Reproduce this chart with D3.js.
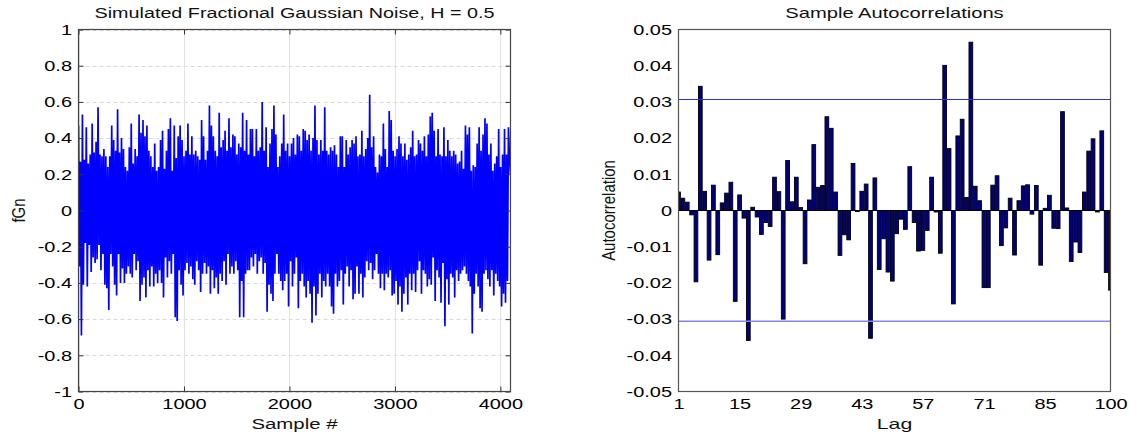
<!DOCTYPE html>
<html>
<head>
<meta charset="utf-8">
<script src="https://cdn.jsdelivr.net/npm/d3@7"></script>
<style>
    body { margin: 0; background: #fff; }
    text { font-family: "Liberation Sans", Arial, sans-serif; }
</style>
</head>
<body>
<svg id="chart" width="1138" height="437"></svg>
<script>

// ---- Data ----

// fGn trace: upper and lower peaks, column by column, left to right
var fgnHigh = [
    0.47,0.27,0.53,0.28,0.46,0.26,0.31,0.48,0.32,0.38,0.57,0.31,0.30,0.34,0.30,0.24,0.30,0.47,0.39,0.33,0.56,0.32,0.40,0.34,0.24,0.22,0.35,0.48,0.26,0.34,0.30,0.53,0.43,0.50,0.41,0.47,0.33,0.30,0.24,0.37,0.22,
    0.24,0.39,0.44,0.23,0.33,0.45,0.51,0.22,0.47,0.29,0.41,0.47,0.39,0.30,0.33,0.48,0.31,0.41,0.31,0.33,0.30,0.28,0.50,0.41,0.28,0.33,0.58,0.47,0.41,0.33,0.30,0.54,0.35,0.39,0.44,0.33,0.51,0.35,0.42,0.41,0.31,0.37,0.35,0.54,0.33,0.50,0.31,0.45,
    0.45,0.30,0.45,0.33,0.35,0.60,0.33,0.46,0.24,0.37,0.45,0.58,0.42,0.24,0.30,0.37,0.53,0.33,0.37,0.30,0.37,0.40,0.31,0.42,0.41,0.33,0.45,0.44,0.39,0.42,0.33,0.40,0.58,0.39,0.31,0.39,0.33,0.57,0.33,0.31,0.35,0.33,0.36,0.31,0.24,0.41,
    0.41,0.24,0.39,0.31,0.35,0.39,0.37,0.41,0.30,0.31,0.44,0.30,0.34,0.40,0.64,0.35,0.41,0.24,0.21,0.31,0.30,0.48,0.34,0.24,0.55,0.50,0.33,0.30,0.34,0.41,0.37,0.30,0.37,0.28,0.31,0.35,0.44,0.30,0.31,0.39,0.37,0.33,0.41,0.30,0.42,0.52,0.54,0.44,
    0.30,0.45,0.31,0.30,0.46,0.30,0.39,0.33,0.30,0.33,0.31,0.26,0.27,0.33,0.23,0.47,0.42,0.46,0.22,0.25,0.24,0.37,0.46,0.33,0.42,0.51,0.48,0.31,0.37,0.22,0.26,0.30,0.45,0.24,0.31,0.45,0.31,0.46,0.30,0.20
];
var fgnLow = [
    -0.31,-0.69,-0.41,-0.18,-0.42,-0.19,-0.34,-0.26,-0.29,-0.27,-0.19,-0.33,-0.24,-0.41,-0.43,-0.55,-0.24,-0.31,-0.41,-0.47,-0.24,-0.40,-0.32,-0.40,-0.35,-0.31,-0.35,-0.37,-0.24,-0.33,-0.28,-0.50,-0.41,-0.37,-0.48,-0.33,-0.42,-0.31,-0.42,-0.35,-0.40,-0.33,
    -0.40,-0.48,-0.26,-0.37,-0.28,-0.35,-0.24,-0.59,-0.61,-0.33,-0.41,-0.47,-0.33,-0.29,-0.35,-0.31,-0.38,-0.41,-0.28,-0.33,-0.45,-0.35,-0.29,-0.35,-0.31,-0.46,-0.33,-0.43,-0.37,-0.46,-0.35,-0.39,-0.28,-0.41,-0.24,-0.35,-0.31,-0.35,-0.28,-0.33,-0.59,-0.39,-0.59,-0.35,-0.33,
    -0.33,-0.26,-0.31,-0.24,-0.35,-0.28,-0.26,-0.35,-0.29,-0.56,-0.41,-0.46,-0.50,-0.35,-0.24,-0.35,-0.39,-0.44,-0.39,-0.35,-0.53,-0.28,-0.42,-0.35,-0.26,-0.54,-0.39,-0.35,-0.42,-0.48,-0.39,-0.46,-0.62,-0.42,-0.58,-0.46,-0.35,-0.48,-0.39,-0.42,-0.35,-0.42,-0.53,-0.57,-0.35,-0.42,
    -0.39,-0.33,-0.52,-0.35,-0.31,-0.42,-0.33,-0.49,-0.46,-0.31,-0.46,-0.35,-0.48,-0.37,-0.28,-0.33,-0.29,-0.38,-0.33,-0.24,-0.35,-0.43,-0.35,-0.44,-0.35,-0.37,-0.33,-0.47,-0.46,-0.39,-0.52,-0.42,-0.56,-0.46,-0.37,-0.52,-0.35,-0.44,-0.35,-0.45,-0.33,-0.28,-0.46,-0.33,-0.35,-0.42,
    -0.38,-0.41,-0.26,-0.50,-0.33,-0.37,-0.51,-0.29,-0.64,-0.38,-0.52,-0.35,-0.37,-0.48,-0.33,-0.39,-0.35,-0.33,-0.31,-0.35,-0.39,-0.42,-0.68,-0.46,-0.35,-0.42,-0.54,-0.56,-0.35,-0.33,-0.38,-0.42,-0.33,-0.47,-0.35,-0.39,-0.42,-0.53,-0.46,-0.51,-0.39
];
var sampleCount = 4096;
var sampleTicks = [0, 1000, 2000, 3000, 4000];
var fgnTicks = [-1, -0.8, -0.6, -0.4, -0.2, 0, 0.2, 0.4, 0.6, 0.8, 1];

// Sample autocorrelations, lags 1..100
var acfValues = [
    0.0051, 0.0034, 0.0023,-0.0012,-0.0197, 0.0343, 0.0053,-0.0137, 0.0070,-0.0122,
    0.0021, 0.0048, 0.0078,-0.0251, 0.0043,-0.0021,-0.0359, 0.0009,-0.0018,-0.0066,
   -0.0033,-0.0044, 0.0092, 0.0052,-0.0300, 0.0138, 0.0024, 0.0092, 0.0008,-0.0147,
    0.0029, 0.0182, 0.0064, 0.0069, 0.0259, 0.0227, 0.0051,-0.0124,-0.0067,-0.0081,
    0.0130,-0.0003, 0.0053, 0.0073,-0.0353, 0.0090,-0.0163,-0.0078,-0.0170,-0.0195,
   -0.0064,-0.0024,-0.0052, 0.0121,-0.0033,-0.0112,-0.0110,-0.0055, 0.0092,-0.0004,
   -0.0118, 0.0401, 0.0171,-0.0258, 0.0206, 0.0252, 0.0036, 0.0465, 0.0067, 0.0027,
   -0.0213,-0.0213, 0.0070, 0.0096,-0.0097,-0.0048, 0.0034,-0.0123, 0.0027, 0.0068,
    0.0071,-0.0010, 0.0069,-0.0151, 0.0006, 0.0042,-0.0049,-0.0050, 0.0273, 0.0007,
   -0.0141,-0.0087,-0.0116, 0.0051, 0.0164, 0.0198,-0.0004, 0.0220,-0.0171,-0.0220
];
var acfLags = d3.range(1, acfValues.length + 1);
var acfBound = 0.0306;   // 1.96 / sqrt(4096)
var lagTicks = [1, 15, 29, 43, 57, 71, 85, 100];
var acfTicks = [-0.05, -0.04, -0.03, -0.02, -0.01, 0, 0.01, 0.02, 0.03, 0.04, 0.05];

// ---- Layout ----
var plotTop = 29.5, plotBottom = 391.5;
var leftPlot = { x0: 78.5, x1: 510.5 };
var rightPlot = { x0: 678.5, x1: 1110.5 };
var SX = 1.33;        // the picture's text is drawn wider than it is tall

var svg = d3.select("#chart");

// Move x/y of a text into a transform and widen it
function stretch(sel, sx, rot) {
    sel.each(function () {
        var t = d3.select(this);
        var x = +t.attr("x") || 0, y = +t.attr("y") || 0;
        t.attr("x", null).attr("y", null)
            .attr("transform", "translate(" + x + "," + y + ") scale(" + sx + ",1)" + (rot ? " rotate(" + rot + ")" : ""));
    });
}

function fmt(d) {
    if (Math.abs(d) < 1e-9) return "0";
    return String(+d.toFixed(2));
}

// ================= Left: simulated fGn =================
var xs = d3.scaleLinear().domain([0, sampleCount]).range([leftPlot.x0, leftPlot.x1]);
var ys = d3.scaleLinear().domain([-1, 1]).range([plotBottom, plotTop]);

var left = svg.append("g");

// Grid
left.append("g").selectAll("line").data(fgnTicks).enter().append("line")
    .attr("x1", leftPlot.x0).attr("x2", leftPlot.x1)
    .attr("y1", function (d) { return Math.round(ys(d)) + 0.5; })
    .attr("y2", function (d) { return Math.round(ys(d)) + 0.5; })
    .style("stroke", "#d9d9d9").style("stroke-dasharray", "4,3");
left.append("g").selectAll("line").data(sampleTicks).enter().append("line")
    .attr("x1", function (d) { return Math.round(xs(d)) + 0.5; })
    .attr("x2", function (d) { return Math.round(xs(d)) + 0.5; })
    .attr("y1", plotTop).attr("y2", plotBottom)
    .style("stroke", "#e2e2e2");

// Trace: interleave high and low peaks
var fgnTrace = [];
for (var i = 0; i < Math.max(fgnHigh.length, fgnLow.length); i++) {
    if (i < fgnHigh.length) fgnTrace.push(fgnHigh[i]);
    if (i < fgnLow.length) fgnTrace.push(fgnLow[i]);
}
svg.append("clipPath").attr("id", "clipL").append("rect")
    .attr("x", leftPlot.x0).attr("y", plotTop).attr("width", leftPlot.x1 - leftPlot.x0).attr("height", plotBottom - plotTop);

var line = d3.line()
    .x(function (d, i) { return xs(i * (sampleCount - 1) / (fgnTrace.length - 1)); })
    .y(function (d) { return ys(d); });
left.append("path").datum(fgnTrace)
    .attr("clip-path", "url(#clipL)")
    .attr("d", line)
    .style("fill", "none").style("stroke", "#0000ff").style("stroke-width", 1.7)
    .style("stroke-linejoin", "miter").style("stroke-miterlimit", 1.5);

// Axes with inward ticks on all four sides
var axL = left.append("g").attr("transform", "translate(" + leftPlot.x0 + ",0)")
    .call(d3.axisLeft(ys).tickValues(fgnTicks).tickSize(-5).tickSizeOuter(0).tickPadding(6.5).tickFormat(fmt));
var axB = left.append("g").attr("transform", "translate(0," + plotBottom + ")")
    .call(d3.axisBottom(xs).tickValues(sampleTicks).tickSize(-5).tickSizeOuter(0).tickPadding(6.5).tickFormat(d3.format("d")));
left.append("g").attr("transform", "translate(" + leftPlot.x1 + ",0)")
    .call(d3.axisRight(ys).tickValues(fgnTicks).tickSize(-5).tickSizeOuter(0).tickFormat(""));
left.append("g").attr("transform", "translate(0," + plotTop + ")")
    .call(d3.axisTop(xs).tickValues(sampleTicks).tickSize(-5).tickSizeOuter(0).tickFormat(""));
left.selectAll(".domain").remove();
left.selectAll(".tick line").style("stroke", "#333");

left.append("rect")
    .attr("x", leftPlot.x0).attr("y", plotTop).attr("width", leftPlot.x1 - leftPlot.x0).attr("height", plotBottom - plotTop)
    .style("fill", "none").style("stroke", "#444").style("stroke-width", 1.2);

// ================= Right: sample autocorrelations =================
var xr = d3.scaleLinear().domain([1, acfLags.length]).range([rightPlot.x0, rightPlot.x1]);
var yr = d3.scaleLinear().domain([-0.05, 0.05]).range([plotBottom, plotTop]);
var barW = (xr(2) - xr(1)) * 0.86;

var right = svg.append("g");
svg.append("clipPath").attr("id", "clipR").append("rect")
    .attr("x", rightPlot.x0).attr("y", plotTop).attr("width", rightPlot.x1 - rightPlot.x0).attr("height", plotBottom - plotTop);

var bars = right.append("g").attr("clip-path", "url(#clipR)");
bars.selectAll("rect").data(acfValues).enter().append("rect")
    .attr("x", function (d, i) { return xr(acfLags[i]) - barW / 2; })
    .attr("y", function (d) { return yr(Math.max(0, d)); })
    .attr("width", barW)
    .attr("height", function (d) { return Math.abs(yr(d) - yr(0)); })
    .style("fill", "#000080").style("stroke", "#000").style("stroke-width", 0.9);

// Baseline and confidence bounds
right.append("line")
    .attr("x1", rightPlot.x0).attr("x2", rightPlot.x1)
    .attr("y1", yr(0)).attr("y2", yr(0))
    .style("stroke", "#000").style("stroke-width", 1.2);
right.append("line")
    .attr("x1", rightPlot.x0).attr("x2", rightPlot.x1)
    .attr("y1", Math.floor(yr(acfBound)) + 0.5).attr("y2", Math.floor(yr(acfBound)) + 0.5)
    .style("stroke", "#2f2fd4").style("stroke-width", 1);
right.append("line")
    .attr("x1", rightPlot.x0).attr("x2", rightPlot.x1)
    .attr("y1", yr(-acfBound)).attr("y2", yr(-acfBound))
    .style("stroke", "#8585f0").style("stroke-width", 1.6);

var arL = right.append("g").attr("transform", "translate(" + rightPlot.x0 + ",0)")
    .call(d3.axisLeft(yr).tickValues(acfTicks).tickSize(0).tickPadding(6.5).tickFormat(fmt));
var arB = right.append("g").attr("transform", "translate(0," + plotBottom + ")")
    .call(d3.axisBottom(xr).tickValues(lagTicks).tickSize(0).tickPadding(6.5).tickFormat(d3.format("d")));
right.selectAll(".domain").remove();

right.append("rect")
    .attr("x", rightPlot.x0).attr("y", plotTop).attr("width", rightPlot.x1 - rightPlot.x0).attr("height", plotBottom - plotTop)
    .style("fill", "none").style("stroke", "#555").style("stroke-width", 1.2);

// ---- Text styling ----
svg.selectAll(".tick text").style("fill", "#000");
[axL, axB, arL, arB].forEach(function (g) {
    g.attr("font-size", 15).attr("font-family", null);
    stretch(g.selectAll(".tick text"), SX);
});

function label(x, y, txt, size, sx, rot) {
    var t = svg.append("text").attr("x", x).attr("y", y)
        .attr("text-anchor", "middle").style("font-size", size + "px").style("fill", "#111")
        .text(txt);
    stretch(t, sx, rot);
    return t;
}
var midL = (leftPlot.x0 + leftPlot.x1) / 2, midR = (rightPlot.x0 + rightPlot.x1) / 2;
label(midL, 17.5, "Simulated Fractional Gaussian Noise, H = 0.5", 14, 1.41);
label(midR, 17.5, "Sample Autocorrelations", 14, 1.44);
label(midL, 429, "Sample #", 15, 1.36);
label(midR, 429, "Lag", 15, 1.42);
label(25, (plotTop + plotBottom) / 2, "fGn", 15, 1.2, -90);
label(615, (plotTop + plotBottom) / 2, "Autocorrelation", 15, 1.2, -90);

</script>
</body>
</html>
